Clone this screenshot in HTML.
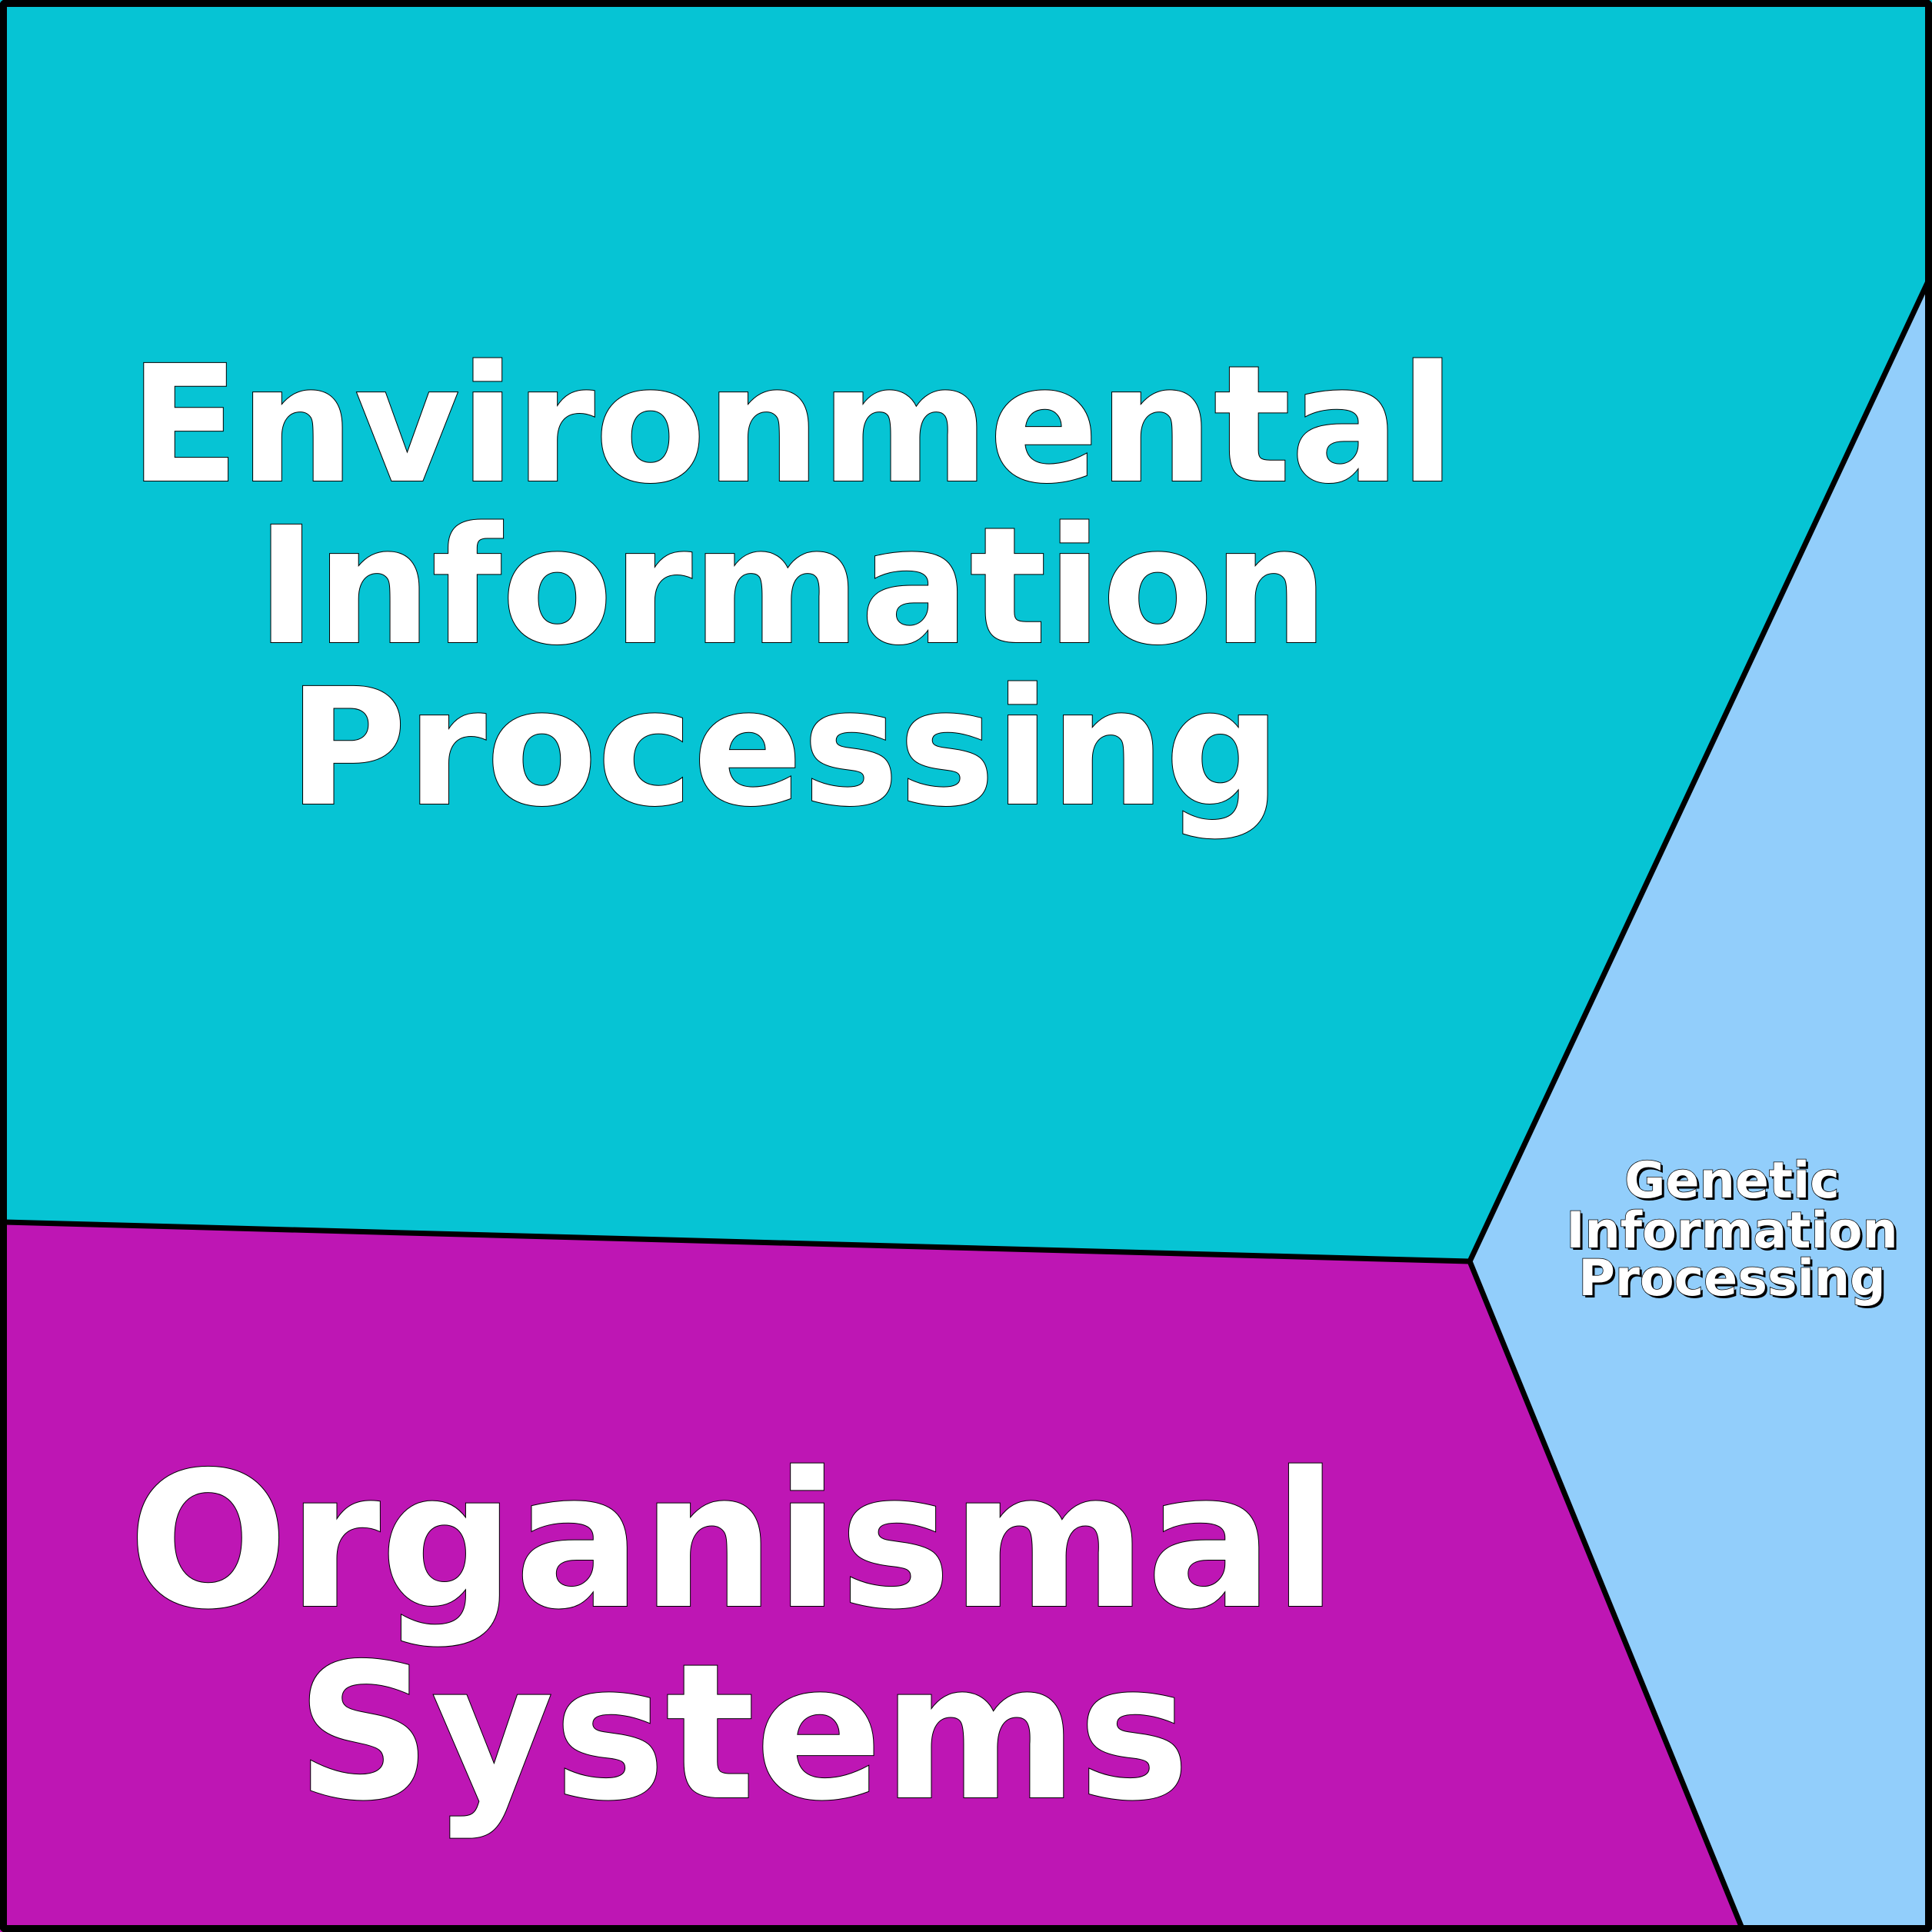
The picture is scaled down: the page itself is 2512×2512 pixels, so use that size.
<!DOCTYPE html>
<html><head><meta charset="utf-8"><style>html,body{margin:0;padding:0;background:#fff}svg{display:block}</style></head>
<body>
<svg width="2512" height="2512" viewBox="0 0 2512 2512" xmlns="http://www.w3.org/2000/svg">
<rect x="0" y="0" width="2512" height="2512" fill="#92CEFB"/>
<polygon points="0,0 2512,0 2512,355 1911,1640 8,1589 0,1589" fill="#06C4D4"/>
<polygon points="0,1589 1911,1640 2267,2512 0,2512" fill="#BE16B4"/>
<g stroke="#000" stroke-width="7" fill="none" stroke-linejoin="round">
<polyline points="2512,355 1911,1640 2267,2512"/>
<polyline points="6,1589 1911,1640"/>
</g>
<rect x="4" y="4" width="2504" height="2504" fill="none" stroke="#000" stroke-width="10" rx="4"/>
<g font-family="'DejaVu Sans','Liberation Sans',sans-serif" font-weight="bold" fill="#fff" stroke="#000" stroke-width="2" paint-order="stroke" text-anchor="middle">
<text x="1030" y="625" font-size="210">Environmental</text>
<text x="1030" y="835" font-size="210">Information</text>
<text x="1020" y="1045" font-size="210">Processing</text>
<text x="953" y="2088" font-size="244">Organismal</text>
<text x="966" y="2337" font-size="244">Systems</text>
</g>
<g font-family="'DejaVu Sans','Liberation Sans',sans-serif" font-weight="bold" font-size="65" text-anchor="middle">
<g fill="#000" transform="translate(3,3)">
<text x="2252" y="1557">Genetic</text>
<text x="2252" y="1622">Information</text>
<text x="2252" y="1684">Processing</text>
</g>
<g fill="#fff" stroke="#000" stroke-width="1.5" paint-order="stroke">
<text x="2252" y="1557">Genetic</text>
<text x="2252" y="1622">Information</text>
<text x="2252" y="1684">Processing</text>
</g>
</g>
</svg>
</body></html>
